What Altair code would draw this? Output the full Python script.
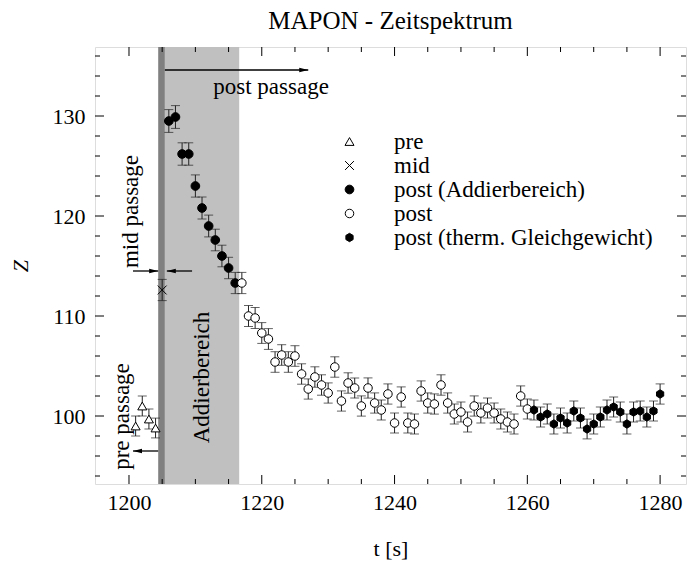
import altair as alt
import pandas as pd

# ---------------- data ----------------
series_names = ["pre", "mid", "post (Addierbereich)", "post", "post (therm. Gleichgewicht)"]

pre_t = [1201, 1202, 1203, 1204]
pre_z = [99.0, 101.0, 99.7, 98.8]
pre_err = [1.00, 1.00, 1.00, 0.99]

mid_t = [1205]
mid_z = [112.6]
mid_err = [1.06]

add_t = [1206, 1207, 1208, 1209, 1210, 1211, 1212, 1213, 1214, 1215, 1216]
add_z = [129.5, 129.9, 126.2, 126.2, 123.0, 120.8, 119.0, 117.6, 116.0, 114.8, 113.3]
add_err = [1.14, 1.14, 1.12, 1.12, 1.11, 1.10, 1.09, 1.08, 1.08, 1.07, 1.06]

post_t = [1217, 1218, 1219, 1220, 1221, 1222, 1223, 1224, 1225, 1226, 1227,
          1228, 1229, 1230, 1231, 1232, 1233, 1234, 1235, 1236, 1237, 1238,
          1239, 1240, 1241, 1242, 1243, 1244, 1245, 1246, 1247, 1248, 1249,
          1250, 1251, 1252, 1253, 1254, 1255, 1256, 1257, 1258, 1259, 1260]
post_z = [113.3, 110.0, 109.8, 108.3, 107.7, 105.4, 106.1, 105.4, 106.0, 104.2, 102.7,
          103.9, 103.1, 102.3, 104.9, 101.5, 103.3, 102.8, 101.0, 102.8, 101.3, 100.6,
          102.2, 99.3, 101.9, 99.3, 99.2, 102.5, 101.3, 101.2, 103.1, 101.3, 100.2,
          100.4, 99.4, 101.0, 100.3, 100.8, 100.3, 99.7, 99.4, 99.2, 102.0, 100.7]
post_err = [1.06, 1.05, 1.05, 1.04, 1.04, 1.03, 1.03, 1.03, 1.03, 1.02, 1.01,
            1.02, 1.02, 1.01, 1.02, 1.01, 1.02, 1.01, 1.01, 1.01, 1.01, 1.00,
            1.01, 1.00, 1.01, 1.00, 1.00, 1.01, 1.01, 1.01, 1.02, 1.01, 1.00,
            1.00, 1.00, 1.01, 1.00, 1.00, 1.00, 1.00, 1.00, 1.00, 1.01, 1.00]

eq_t = [1261, 1262, 1263, 1264, 1265, 1266, 1267, 1268, 1269, 1270,
        1271, 1272, 1273, 1274, 1275, 1276, 1277, 1278, 1279, 1280]
eq_z = [100.6, 99.9, 100.2, 99.2, 99.8, 99.3, 100.5, 99.8, 98.7, 99.2,
        99.9, 100.6, 100.9, 100.4, 99.2, 100.4, 100.5, 99.9, 100.5, 102.2]
eq_err = [1.00, 1.00, 1.00, 1.00, 1.00, 1.00, 1.00, 1.00, 0.99, 1.00,
          1.00, 1.00, 1.00, 1.00, 1.00, 1.00, 1.00, 1.00, 1.00, 1.01]

# shaded regions (time intervals)
band_mid = [1204.4, 1205.4]
band_add = [1205.4, 1216.6]

# annotation arrows: (tail t, tip t, Z)
arrow_right = {"t0": [1205.4, 1200.6], "t1": [1227.0, 1204.4], "z": [134.6, 114.5]}
arrow_left = {"t0": [1204.4, 1209.5], "t1": [1200.6, 1205.7], "z": [96.5, 114.5]}

# annotation texts
text_h = {"t": [1221.4], "z": [132.9], "label": ["post passage"]}
text_v = {"t": [1200.3, 1199.0, 1211.0], "z": [120.45, 99.95, 103.85],
          "label": ["mid passage", "pre passage", "Addierbereich"]}

x_major = [1200, 1220, 1240, 1260, 1280]
x_minor = [1205, 1210, 1215, 1225, 1230, 1235, 1245, 1250, 1255, 1265, 1270, 1275]
y_major = [100, 110, 120, 130]
y_minor = [94, 96, 98, 102, 104, 106, 108, 112, 114, 116, 118, 122, 124, 126, 128, 132, 134, 136]

# ---------------- build tables ----------------
def frame(ts, zs, es, name):
    return pd.DataFrame({"t": ts, "z": zs, "err": es, "series": name})

df = pd.concat([
    frame(pre_t, pre_z, pre_err, series_names[0]),
    frame(mid_t, mid_z, mid_err, series_names[1]),
    frame(add_t, add_z, add_err, series_names[2]),
    frame(post_t, post_z, post_err, series_names[3]),
    frame(eq_t, eq_z, eq_err, series_names[4]),
], ignore_index=True)
df["lo"] = df["z"] - df["err"]
df["hi"] = df["z"] + df["err"]

W, H = 591, 437
FONT = "Liberation Serif"

xscale = alt.Scale(domain=[1194.88, 1283.9], nice=False, zero=False)
yscale = alt.Scale(domain=[93.2, 136.9], nice=False, zero=False)
xaxis = alt.Axis(values=x_major, ticks=False, domain=False, grid=False, format="d",
                 labelFont=FONT, labelFontSize=22, labelColor="black", labelPadding=8,
                 labelFlush=False, titleFont=FONT, titleFontSize=22, titleFontWeight="normal",
                 titleColor="black", titlePadding=25)
yaxis = alt.Axis(values=y_major, ticks=False, domain=False, grid=False, format="d",
                 labelFont=FONT, labelFontSize=22, labelColor="black", labelPadding=10,
                 titleFont=FONT, titleFontSize=22, titleFontWeight="normal",
                 titleFontStyle="italic", titleColor="black", titlePadding=20)


def X(field):
    return alt.X(f"{field}:Q", scale=xscale, axis=xaxis, title="t [s]")


def Y(field):
    return alt.Y(f"{field}:Q", scale=yscale, axis=yaxis, title="Z")


# bands
bands = alt.layer(
    alt.Chart(pd.DataFrame({"a": [band_add[0]], "b": [band_add[1]]})).mark_rect(color="#c0c0c0").encode(
        x=X("a"), x2="b", y=alt.value(0), y2=alt.value(H)),
    alt.Chart(pd.DataFrame({"a": [band_mid[0]], "b": [band_mid[1]]})).mark_rect(color="#808080").encode(
        x=X("a"), x2="b", y=alt.value(0), y2=alt.value(H)),
)

# error bars
ebar = alt.Chart(df).mark_rule(color="#222222", strokeWidth=1).encode(x=X("t"), y=Y("lo"), y2="hi")
cap_lo = alt.Chart(df).mark_tick(orient="horizontal", size=9, thickness=1, color="#222222").encode(x=X("t"), y=Y("lo"))
cap_hi = alt.Chart(df).mark_tick(orient="horizontal", size=9, thickness=1, color="#222222").encode(x=X("t"), y=Y("hi"))

X_PATH = "M-1,-1L1,1M-1,1L1,-1"
HEX_PATH = "M0,-1L0.866,-0.5L0.866,0.5L0,1L-0.866,0.5L-0.866,-0.5Z"

legend = alt.Legend(title=None, orient="none", legendX=243, legendY=83, padding=0,
                    labelFont=FONT, labelFontSize=23, labelColor="black", labelLimit=500,
                    labelOffset=33, symbolStrokeWidth=1, rowPadding=0)

points = alt.Chart(df).mark_point(opacity=1, strokeWidth=1).encode(
    x=X("t"), y=Y("z"),
    shape=alt.Shape("series:N", scale=alt.Scale(domain=series_names,
                    range=["triangle-up", X_PATH, "circle", "circle", HEX_PATH]), legend=legend),
    fill=alt.Fill("series:N", scale=alt.Scale(domain=series_names,
                  range=["white", "white", "black", "white", "black"]), legend=legend),
    stroke=alt.Stroke("series:N", scale=alt.Scale(domain=series_names,
                      range=["black", "black", "black", "black", "black"]), legend=legend),
    size=alt.Size("series:N", scale=alt.Scale(domain=series_names, range=[81, 70, 64, 64, 72]),
                  legend=legend),
)

# arrows
ar_df = pd.DataFrame(arrow_right)
al_df = pd.DataFrame(arrow_left)
RIGHT_HEAD = "M1,0L-1,-0.5L-1,0.5Z"
LEFT_HEAD = "M-1,0L1,-0.5L1,0.5Z"
arrows = alt.layer(
    alt.Chart(ar_df).mark_rule(color="black", strokeWidth=1.3).encode(x=X("t0"), x2="t1", y=Y("z")),
    alt.Chart(al_df).mark_rule(color="black", strokeWidth=1.3).encode(x=X("t0"), x2="t1", y=Y("z")),
    alt.Chart(ar_df).mark_point(shape=RIGHT_HEAD, size=81, filled=True, color="black", opacity=1,
                                xOffset=-4.5).encode(x=X("t1"), y=Y("z")),
    alt.Chart(al_df).mark_point(shape=LEFT_HEAD, size=81, filled=True, color="black", opacity=1,
                                xOffset=4.5).encode(x=X("t1"), y=Y("z")),
)

texts = alt.layer(
    alt.Chart(pd.DataFrame(text_h)).mark_text(font=FONT, fontSize=23, color="black",
                                              align="center", baseline="middle").encode(
        x=X("t"), y=Y("z"), text="label:N"),
    alt.Chart(pd.DataFrame(text_v)).mark_text(font=FONT, fontSize=23, color="black", angle=270,
                                              align="center", baseline="middle").encode(
        x=X("t"), y=Y("z"), text="label:N"),
)

# inward ticks on all four sides
def xticks(vals, ln):
    d = pd.DataFrame({"t": vals})
    return alt.layer(
        alt.Chart(d).mark_rule(color="black", strokeWidth=1).encode(x=X("t"), y=alt.value(H), y2=alt.value(H - ln)),
        alt.Chart(d).mark_rule(color="black", strokeWidth=1).encode(x=X("t"), y=alt.value(0), y2=alt.value(ln)),
    )


def yticks(vals, ln):
    d = pd.DataFrame({"z": vals})
    return alt.layer(
        alt.Chart(d).mark_rule(color="black", strokeWidth=1).encode(y=Y("z"), x=alt.value(0), x2=alt.value(ln)),
        alt.Chart(d).mark_rule(color="black", strokeWidth=1).encode(y=Y("z"), x=alt.value(W), x2=alt.value(W - ln)),
    )


ticks = alt.layer(xticks(x_major, 9), xticks(x_minor, 5), yticks(y_major, 9), yticks(y_minor, 5))

chart = alt.layer(bands, ebar, cap_lo, cap_hi, points, arrows, texts, ticks).properties(
    width=W, height=H,
    title=alt.TitleParams("MAPON - Zeitspektrum", font=FONT, fontSize=25, fontWeight="normal",
                          color="black", anchor="middle", baseline="alphabetic", offset=-7),
    autosize=alt.AutoSizeParams(type="none"),
    padding={"left": 95, "top": 47, "right": 2, "bottom": 83},
).configure_view(stroke="black", strokeWidth=1.3).configure(background="white")

chart.save("out.html", embed_options={"renderer": "svg", "actions": False})
